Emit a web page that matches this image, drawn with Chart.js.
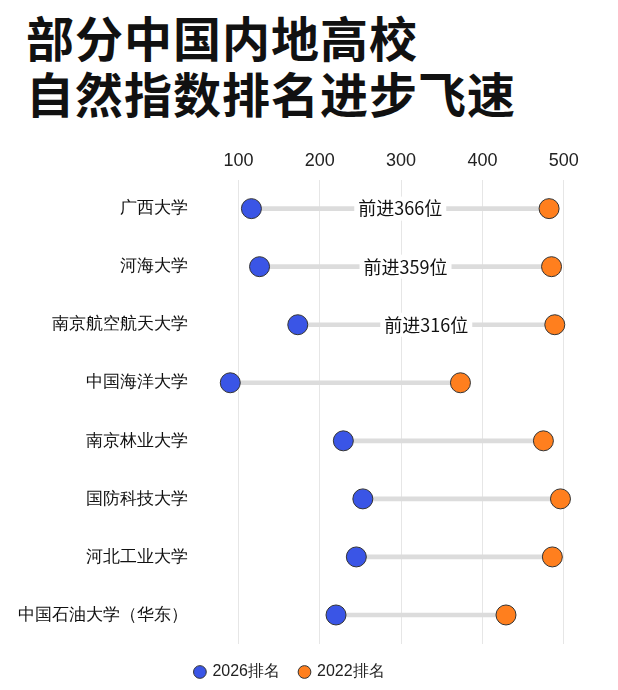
<!DOCTYPE html>
<html><head><meta charset="utf-8">
<script src="https://cdn.jsdelivr.net/npm/chart.js@4"></script>
<style>
body{margin:0;background:#fff;font-family:"Noto Sans CJK SC","Noto Sans",sans-serif;}
#t{position:absolute;left:26px;top:8px;font-size:48px;font-weight:bold;line-height:56px;color:#111;letter-spacing:1px;}
#w{position:absolute;left:0;top:142px;width:618px;height:548px;}
</style></head><body>
<div id="t">部分中国内地高校<br>自然指数排名进步飞速</div>
<div id="w"><canvas id="c"></canvas></div>
<script>
const categories=["广西大学","河海大学","南京航空航天大学","中国海洋大学","南京林业大学","国防科技大学","河北工业大学","中国石油大学（华东）"];
const rank2026=[116,126,173,90,229,253,245,220];
const rank2022=[482,485,489,373,475,496,486,429];
const notes=["前进366位","前进359位","前进316位","","","","",""];
const ticks=[100,200,300,400,500];
const notePlugin={id:'notes',afterDatasetsDraw(ch){
  const ctx=ch.ctx,xs=ch.scales.x,ys=ch.scales.y;
  ctx.save();ctx.font='18px "Noto Sans CJK SC"';ctx.textAlign='center';ctx.textBaseline='middle';
  notes.forEach((n,i)=>{if(!n)return;const x=(xs.getPixelForValue(rank2026[i])+xs.getPixelForValue(rank2022[i]))/2,y=ys.getPixelForValue(i);
    const w=ctx.measureText(n).width+8;ctx.fillStyle='#fff';ctx.fillRect(x-w/2,y-12,w,24);ctx.fillStyle='#111';ctx.fillText(n,x,y);});
  ctx.restore();}};
new Chart(document.getElementById('c'),{
  data:{labels:categories,datasets:[
    {type:'bar',label:'range',data:rank2026.map((v,i)=>[v,rank2022[i]]),backgroundColor:'#dcdcdc',barThickness:4,order:3},
    {type:'line',label:'2026排名',data:rank2026.map((v,i)=>({x:v,y:categories[i]})),showLine:false,pointRadius:10,pointHoverRadius:10,backgroundColor:'#3a55e6',borderColor:'#333',borderWidth:1,pointStyle:'circle',order:1},
    {type:'line',label:'2022排名',data:rank2022.map((v,i)=>({x:v,y:categories[i]})),showLine:false,pointRadius:10,pointHoverRadius:10,backgroundColor:'#ff7f1e',borderColor:'#333',borderWidth:1,pointStyle:'circle',order:1}
  ]},
  options:{indexAxis:'y',responsive:true,maintainAspectRatio:false,animation:false,
    layout:{padding:{left:0,right:38,top:0,bottom:0}},
    scales:{
      x:{type:'linear',position:'top',min:70,max:520,afterBuildTicks(a){a.ticks=ticks.map(v=>({value:v}));},
        grid:{color:'#e6e6e6',drawTicks:false},border:{display:false},ticks:{color:'#222',font:{size:18},padding:8}},
      y:{type:'category',grid:{display:false},border:{display:false},ticks:{color:'#111',font:{size:17},padding:18}}
    },
    plugins:{legend:{position:'bottom',labels:{usePointStyle:true,boxWidth:9,boxHeight:9,color:'#222',font:{size:16},padding:20,
      filter:i=>i.datasetIndex>0}},tooltip:{enabled:false}}},
  plugins:[notePlugin]});
</script></body></html>
